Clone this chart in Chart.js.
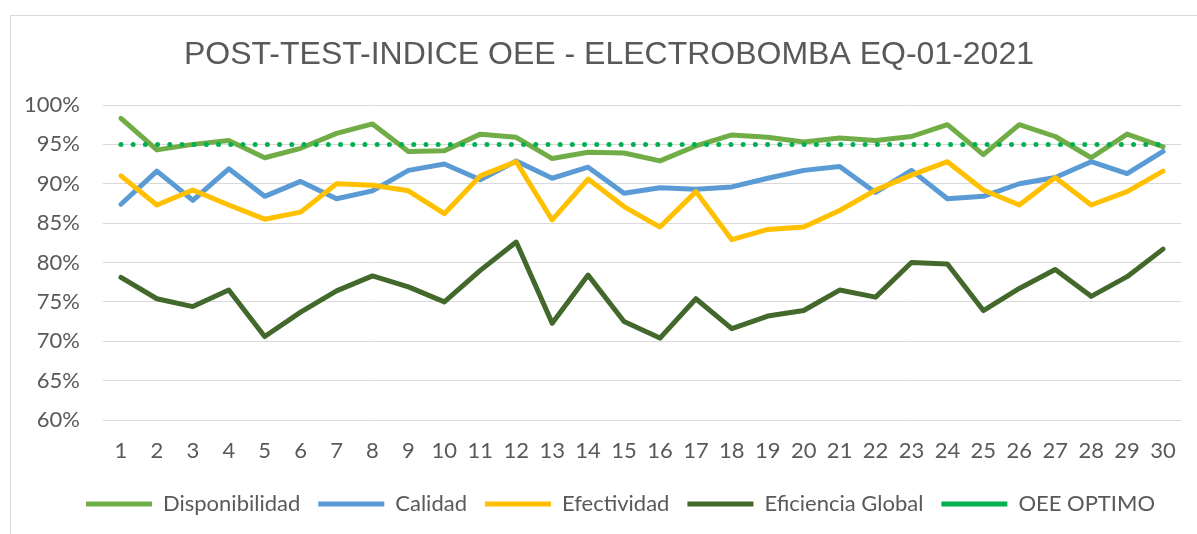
<!DOCTYPE html>
<html>
<head>
<meta charset="utf-8">
<script src="https://cdn.jsdelivr.net/npm/chart.js@4/dist/chart.umd.min.js"></script>
<style>
  html, body { margin: 0; padding: 0; background: #fff; }
  #wrap { position: relative; width: 1197px; height: 534px; overflow: hidden; }
  #frame { position: absolute; left: 10px; top: 15px; width: 1300px; height: 600px; border-top: 1px solid #d9d9d9; border-left: 1px solid #d9d9d9; }
  #oeeChart { position: absolute; left: 0; top: 0; }
</style>
</head>
<body>
<div id="wrap">
  <div id="frame"></div>
  <canvas id="oeeChart" width="1197" height="534"></canvas>
</div>
<script>
const ctxOee = document.getElementById('oeeChart');

const days = ['1', '2', '3', '4', '5', '6', '7', '8', '9', '10', '11', '12', '13', '14', '15',
  '16', '17', '18', '19', '20', '21', '22', '23', '24', '25', '26', '27', '28', '29', '30'];

const disponibilidad = [98.3, 94.3, 95.0, 95.5, 93.3, 94.5, 96.4, 97.6, 94.1, 94.2, 96.3, 95.9, 93.2, 94.0, 93.9,
  92.9, 94.8, 96.2, 95.9, 95.3, 95.8, 95.5, 96.0, 97.5, 93.7, 97.5, 96.0, 93.3, 96.3, 94.7];
const calidad = [87.4, 91.6, 87.9, 91.9, 88.4, 90.3, 88.1, 89.1, 91.7, 92.5, 90.5, 92.9, 90.7, 92.1, 88.8,
  89.5, 89.3, 89.6, 90.7, 91.7, 92.2, 88.9, 91.7, 88.1, 88.4, 90.0, 90.8, 92.8, 91.3, 94.1];
const efectividad = [91.0, 87.3, 89.2, 87.3, 85.5, 86.4, 90.0, 89.8, 89.1, 86.2, 91.0, 92.8, 85.4, 90.6, 87.1,
  84.5, 89.0, 82.9, 84.2, 84.5, 86.6, 89.2, 91.1, 92.8, 89.2, 87.3, 90.8, 87.3, 89.0, 91.6];
const eficienciaGlobal = [78.1, 75.4, 74.4, 76.5, 70.6, 73.7, 76.4, 78.3, 76.9, 75.0, 79.0, 82.6, 72.3, 78.4, 72.5,
  70.4, 75.4, 71.6, 73.2, 73.9, 76.5, 75.6, 80.0, 79.8, 73.9, 76.7, 79.1, 75.7, 78.2, 81.7];
const oeeOptimo = [95, 95, 95, 95, 95, 95, 95, 95, 95, 95, 95, 95, 95, 95, 95,
  95, 95, 95, 95, 95, 95, 95, 95, 95, 95, 95, 95, 95, 95, 95];

const yTicks = [60, 65, 70, 75, 80, 85, 90, 95, 100];

const textGray = '#595959';
const tickFont = { family: 'Lato', size: 22 };

function lineSet(label, data, color, order) {
  return {
    label: label,
    data: data,
    borderColor: color,
    backgroundColor: color,
    borderWidth: 5,
    borderCapStyle: 'round',
    borderJoinStyle: 'round',
    pointRadius: 0,
    tension: 0,
    order: order
  };
}

const optimoSet = lineSet('OEE OPTIMO', oeeOptimo, '#00b050', 1);
optimoSet.borderDash = [0, 12.2];

// title and legend are not centred on the same point in the original
const shiftBoxes = {
  id: 'shiftBoxes',
  afterLayout(chart) {
    chart.titleBlock.left += 8.5;
    chart.titleBlock.right += 8.5;
    chart.legend.left += 20;
    chart.legend.right += 20;
  }
};

new Chart(ctxOee, {
  type: 'line',
  data: {
    labels: days,
    datasets: [
      lineSet('Disponibilidad', disponibilidad, '#70ad47', 5),
      lineSet('Calidad', calidad, '#5b9bd5', 4),
      lineSet('Efectividad', efectividad, '#ffc000', 3),
      lineSet('Eficiencia Global', eficienciaGlobal, '#43682b', 2),
      optimoSet
    ]
  },
  plugins: [shiftBoxes],
  options: {
    responsive: false,
    animation: false,
    layout: { padding: { left: 20, right: 16, top: 0, bottom: 9 } },
    plugins: {
      tooltip: { enabled: false },
      title: {
        display: true,
        text: 'POST-TEST-INDICE OEE - ELECTROBOMBA EQ-01-2021',
        color: textGray,
        font: { family: 'Liberation Sans', size: 32, weight: 'normal' },
        padding: { top: 36, bottom: 30.6 }
      },
      legend: {
        position: 'bottom',
        labels: {
          color: textGray,
          font: tickFont,
          usePointStyle: true,
          pointStyle: 'line',
          pointStyleWidth: 66,
          padding: 18,
          sort: (a, b) => a.datasetIndex - b.datasetIndex
        }
      }
    },
    scales: {
      x: {
        offset: true,
        grid: { display: false, drawTicks: false },
        border: { display: false },
        ticks: { color: textGray, font: tickFont, padding: 18, maxRotation: 0, autoSkip: false },
        afterFit: (axis) => { axis.height = 55; }
      },
      y: {
        min: 60,
        max: 100,
        afterBuildTicks: (axis) => { axis.ticks = yTicks.map(v => ({ value: v })); },
        grid: { color: '#d9d9d9', lineWidth: 1, drawTicks: false },
        border: { display: false },
        ticks: { color: textGray, font: tickFont, padding: 23, callback: (v) => v + '%' },
        afterFit: (axis) => { axis.width = 83; }
      }
    }
  }
});
</script>
</body>
</html>
